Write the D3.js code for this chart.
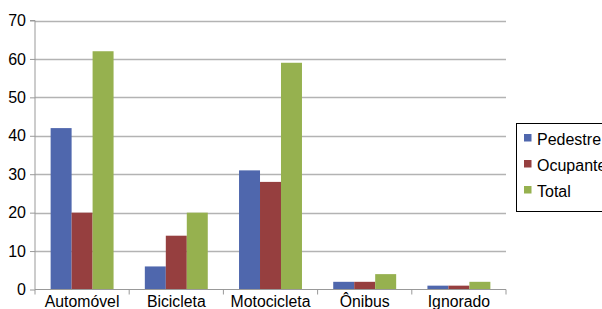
<!DOCTYPE html>
<html><head><meta charset="utf-8">
<script src="https://cdn.jsdelivr.net/npm/d3@7"></script>
<style>body{margin:0;background:#fff}svg{display:block}text{font-family:"Liberation Sans",Arial,sans-serif;fill:#000}</style>
</head><body><svg id="c" width="602" height="309"></svg>
<script>
const categories = ["Automóvel","Bicicleta","Motocicleta","Ônibus","Ignorado"];
const seriesNames = ["Pedestre","Ocupante","Total"];
const pedestre = [42,6,31,2,1];
const ocupante = [20,14,28,2,1];
const total = [62,20,59,4,2];
const yTicks = [0,10,20,30,40,50,60,70];
const colors = ["#4f67ad","#963f3f","#96b14f"];

(function(){
const seriesValues = [pedestre, ocupante, total];
const svg = d3.select("#c");
const pLeft = 35, pRight = 506, pTop = 20.5, pBottom = 289.5;
const x = d3.scaleBand().domain(categories).range([pLeft,pRight]).paddingInner(0).paddingOuter(0);
const x1 = d3.scaleBand().domain(seriesNames).range([0,x.bandwidth()]).paddingInner(0).paddingOuter(0.745);
const y = d3.scaleLinear().domain([0,70]).range([pBottom,pTop]);

// gridlines
svg.append("g").selectAll("line").data(yTicks.filter(d=>d>0)).join("line")
  .attr("x1",pLeft).attr("x2",pRight).attr("y1",d=>Math.round(y(d))+0.5).attr("y2",d=>Math.round(y(d))+0.5)
  .attr("stroke","#b3b3b3").attr("stroke-width",1.3);

// bars
const g = svg.append("g");
seriesNames.forEach((s,si)=>{
  g.selectAll(null).data(categories).join("rect")
    .attr("x",c=>x(c)+x1(s)).attr("width",x1.bandwidth())
    .attr("y",(c,i)=>y(seriesValues[si][i])).attr("height",(c,i)=>y(0)-y(seriesValues[si][i]))
    .attr("fill",colors[si]);
});

// y axis
const ya = d3.axisLeft(y).tickValues(yTicks).tickSize(5).tickPadding(4);
const yg = svg.append("g").attr("transform",`translate(${pLeft},0)`).call(ya);
yg.select(".domain").attr("stroke","#999").attr("d",`M-5,${pTop}H0V${pBottom}`);
yg.selectAll(".tick line").attr("stroke","#999");
yg.selectAll("text").attr("font-size","16px").attr("font-family","Liberation Sans, Arial, sans-serif").attr("fill","#000");

// x axis
svg.append("line").attr("x1",pLeft).attr("x2",pRight).attr("y1",pBottom).attr("y2",pBottom).attr("stroke","#999");
const bounds = categories.map(c=>x(c)).concat([pRight]);
svg.append("g").selectAll("line").data(bounds).join("line")
  .attr("x1",d=>d).attr("x2",d=>d).attr("y1",pBottom).attr("y2",pBottom+5).attr("stroke","#999");
svg.append("g").selectAll("text").data(categories).join("text")
  .attr("x",c=>x(c)+x.bandwidth()/2).attr("y",306.5).attr("text-anchor","middle")
  .attr("font-size","15.8px").text(c=>c);

// legend
svg.append("rect").attr("x",516.5).attr("y",123.5).attr("width",100).attr("height",88)
  .attr("fill","#fff").attr("stroke","#000").attr("stroke-width",1);
const lg = svg.append("g").selectAll("g").data(seriesNames).join("g")
  .attr("transform",(d,i)=>`translate(524,${134+i*26})`);
lg.append("rect").attr("width",7.5).attr("height",7.5).attr("fill",(d,i)=>colors[i]);
lg.append("text").attr("x",13).attr("y",10.5).attr("font-size","16px").text(d=>d);
})();
</script></body></html>
